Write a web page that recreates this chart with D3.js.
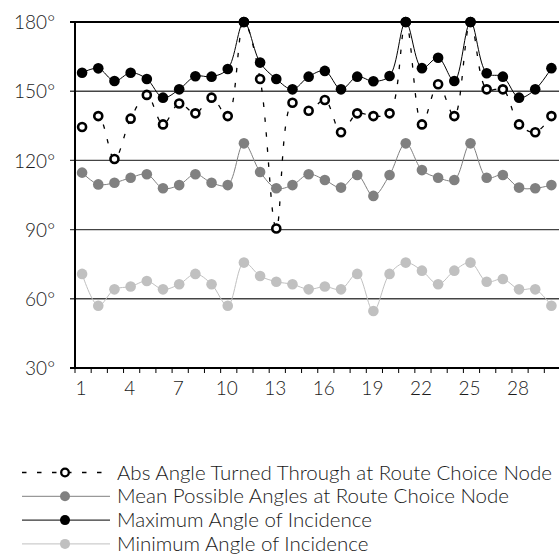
<!DOCTYPE html>
<html>
<head>
<meta charset="utf-8">
<script src="https://d3js.org/d3.v7.min.js"></script>
<style>
  body { margin: 0; background: #fff; }
  svg text { font-family: Lato, "Open Sans", sans-serif; font-weight: 300; fill: #1a1a1a; }
</style>
</head>
<body>
<div id="chart"></div>
<script>
// route choice nodes 1..30
let nodes = [1,2,3,4,5,6,7,8,9,10,11,12,13,14,15,16,17,18,19,20,21,22,23,24,25,26,27,28,29,30];

let absAngle  = [134.5,139.2,120.6,138.1,148.4,135.6,144.7,140.4,147.2,139.2,180,155.3,90.5,145,141.5,146.2,132.2,140.4,139.2,140.4,180,135.6,153,139.2,180,150.8,150.8,135.6,132.2,139.2];
let meanAngle = [114.7,109.6,110.3,112.5,114,107.9,109.3,114,110.3,109.3,127.4,115,107.9,109.3,114,111.5,108.2,113.7,104.6,113.7,127.4,115.8,112.5,111.5,127.4,112.5,113.7,108.2,107.9,109.3];
let maxAngle  = [158,159.9,154.4,158,155.3,147.2,150.8,156.5,156.3,159.6,180,162.4,155.3,150.8,156.3,158.8,150.8,156.3,154.3,156.6,180,160,164.5,154.4,180,157.8,156.3,147.2,150.8,160];
let minAngle  = [70.8,57,64.1,65.3,67.7,64.1,66.3,70.8,66.3,57,75.7,69.9,67.4,66.3,64.1,65.3,64.1,70.8,54.7,70.8,75.7,72.2,66.3,72.2,75.7,67.4,68.6,64.1,64.1,57];

let yTicks = [30,60,90,120,150,180];
let xLabels = [1,4,7,10,13,16,19,22,25,28];

let legendNames = [
  "Abs Angle Turned Through at Route Choice Node",
  "Mean Possible Angles at Route Choice Node",
  "Maximum Angle of Incidence",
  "Minimum Angle of Incidence"
];

let width = 559, height = 554;
let svg = d3.select("#chart").append("svg")
            .attr("width", width)
            .attr("height", height);

// scales
let xScale = d3.scaleBand().domain(nodes).range([74, 559.5]);
let yScale = d3.scaleLinear().domain([30, 180]).range([368, 22]);
let cx = d => xScale(d) + xScale.bandwidth() / 2;

// y labels
let yAxis = d3.axisLeft(yScale).tickValues(yTicks).tickSize(0).tickFormat(d => d + "°");
svg.append("g")
   .attr("transform", "translate(55,0)")
   .call(yAxis)
   .call(g => g.select(".domain").remove())
   .selectAll("text")
   .attr("x", 0)
   .attr("dy", "0.35em")
   .style("font-size", "19px");

// gridlines
svg.append("g").selectAll("line")
   .data(yTicks.filter(d => d > 30))
   .enter().append("line")
   .attr("x1", 70).attr("x2", width)
   .attr("y1", d => yScale(d)).attr("y2", d => yScale(d))
   .attr("stroke", d => d == 180 ? "#000" : "#444")
   .attr("stroke-width", d => d == 180 ? 2 : 1.4);

// left axis
svg.append("line")
   .attr("x1", 75).attr("x2", 75)
   .attr("y1", yScale(180)).attr("y2", yScale(30))
   .attr("stroke", "#000").attr("stroke-width", 2);

// bottom axis, ticks on band edges
let xAxisGroup = svg.append("g").attr("transform", `translate(0,${yScale(30)})`);
xAxisGroup.append("line")
   .attr("x1", 70).attr("x2", width)
   .attr("stroke", "#000").attr("stroke-width", 2);
xAxisGroup.selectAll(".tk")
   .data(nodes)
   .enter().append("line")
   .attr("class", "tk")
   .attr("x1", d => xScale(d) + 1).attr("x2", d => xScale(d) + 1)
   .attr("y1", 0).attr("y2", 5)
   .attr("stroke", "#000").attr("stroke-width", 1);
xAxisGroup.selectAll("text")
   .data(xLabels)
   .enter().append("text")
   .attr("x", d => cx(d) - 1)
   .attr("y", 27)
   .attr("text-anchor", "middle")
   .style("font-size", "19px")
   .text(d => d);

// series
let line = d3.line()
             .x((d, i) => cx(nodes[i]))
             .y(d => yScale(d))
             .curve(d3.curveCatmullRom.alpha(0.5));

let series = [
  {vals: absAngle,  stroke: "#000",    dash: "4.5,10.5", fill: "#fff", mStroke: "#000", r: 4, sw: 2.6, lw: 1.3},
  {vals: meanAngle, stroke: "#808080", dash: null,    fill: "#808080", mStroke: "none", r: 5.3, sw: 0, lw: 1},
  {vals: maxAngle,  stroke: "#000",    dash: null,    fill: "#000",    mStroke: "none", r: 5.3, sw: 0, lw: 1},
  {vals: minAngle,  stroke: "#c0c0c0", dash: null,    fill: "#c0c0c0", mStroke: "none", r: 5.3, sw: 0, lw: 1}
];

series.forEach(s => {
  let g = svg.append("g");
  g.append("path")
   .attr("d", line(s.vals))
   .attr("fill", "none")
   .attr("stroke", s.stroke)
   .attr("stroke-width", s.lw)
   .attr("stroke-dasharray", s.dash);
  g.selectAll("circle")
   .data(s.vals)
   .enter().append("circle")
   .attr("cx", (d, i) => cx(nodes[i]))
   .attr("cy", d => yScale(d))
   .attr("r", s.r)
   .attr("fill", s.fill)
   .attr("stroke", s.mStroke)
   .attr("stroke-width", s.sw);
});

// legend
let legend = svg.append("g");
legendNames.forEach((name, i) => {
  let s = series[i];
  let y = 472.5 + i * 23.8;
  legend.append("line")
        .attr("x1", 22).attr("x2", 110)
        .attr("y1", y).attr("y2", y)
        .attr("stroke", s.stroke)
        .attr("stroke-width", s.lw)
        .attr("stroke-dasharray", s.dash);
  legend.append("circle")
        .attr("cx", 65).attr("cy", y)
        .attr("r", i == 0 ? 3.8 : 5)
        .attr("fill", s.fill)
        .attr("stroke", s.mStroke)
        .attr("stroke-width", i == 0 ? 2.3 : 0);
  legend.append("text")
        .attr("x", 117).attr("y", y)
        .attr("dy", "0.35em")
        .style("font-size", "20.5px")
        .text(name);
});
</script>
</body>
</html>
